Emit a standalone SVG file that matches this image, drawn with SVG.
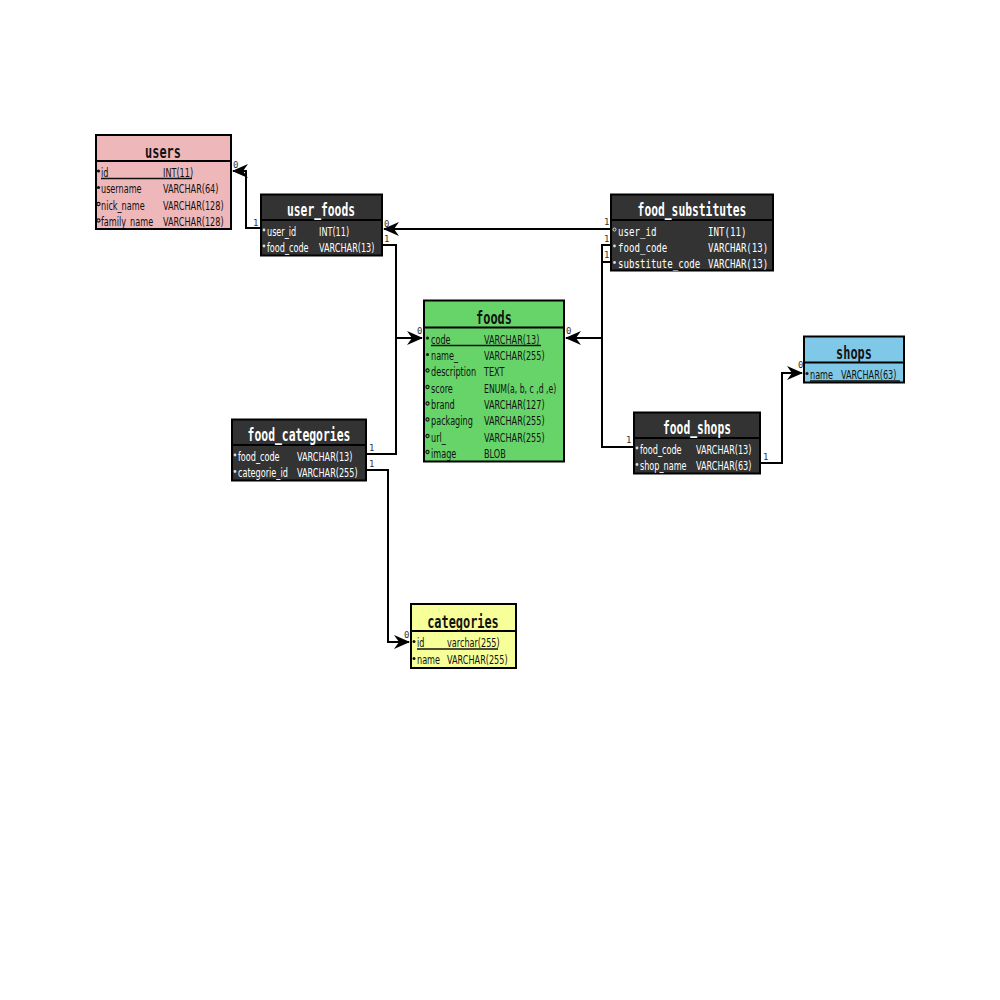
<svg xmlns="http://www.w3.org/2000/svg" width="1000" height="1000" viewBox="0 0 1000 1000">
<defs>
<marker id="arr" markerUnits="userSpaceOnUse" markerWidth="16" markerHeight="14" refX="15" refY="7" orient="auto">
<path d="M0,0 L16,7 L0,14 L5,7 Z" fill="#000"/>
</marker>
</defs>
<style>
.box{stroke:#000;stroke-width:2}
.sep{stroke:#000;stroke-width:2}
.hd{font-family:"DejaVu Sans Mono",monospace;font-weight:bold;font-size:17px;text-anchor:middle}
.tx{font-family:"DejaVu Sans",sans-serif;font-size:12.5px}
.mono{font-family:"DejaVu Sans Mono",monospace;font-size:12px}
.dk{fill:#111}
.lt{fill:#fff}
.ul{stroke-width:1.3}
.conn{fill:none;stroke:#000;stroke-width:2}
.card{font-family:"DejaVu Sans Mono",monospace;font-size:9px;fill:#333}
</style>
<rect width="1000" height="1000" fill="#fff"/>

<g id="users">
<rect class="box" x="96" y="135" width="135" height="94" fill="#EEB7BA"/>
<line class="sep" x1="96" y1="161" x2="231" y2="161"/>
<text class="hd dk" transform="translate(163,157.5) scale(0.7,1)">users</text>
<circle cx="98.5" cy="171" r="1.6" fill="#111"/>
<text class="tx dk" transform="translate(101,176.5) scale(0.65,1)">id</text>
<text class="tx dk" transform="translate(163,176.5) scale(0.65,1)">INT(11)</text>
<line class="ul" x1="101" y1="178.5" x2="192" y2="178.5" stroke="#111"/>
<circle cx="98.5" cy="187.5" r="1.6" fill="#111"/>
<text class="tx dk" transform="translate(101,193) scale(0.65,1)">username</text>
<text class="tx dk" transform="translate(163,193) scale(0.65,1)">VARCHAR(64)</text>
<circle cx="98.5" cy="204" r="1.6" fill="none" stroke="#111" stroke-width="1.1"/>
<text class="tx dk" transform="translate(101,209.5) scale(0.65,1)">nick_name</text>
<text class="tx dk" transform="translate(163,209.5) scale(0.65,1)">VARCHAR(128)</text>
<circle cx="98.5" cy="220.5" r="1.6" fill="none" stroke="#111" stroke-width="1.1"/>
<text class="tx dk" transform="translate(101,226) scale(0.65,1)">family_name</text>
<text class="tx dk" transform="translate(163,226) scale(0.65,1)">VARCHAR(128)</text>
</g>

<g id="user_foods">
<rect class="box" x="261" y="194.5" width="121" height="61" fill="#333"/>
<line class="sep" x1="261" y1="220" x2="382" y2="220"/>
<text class="hd lt" transform="translate(321,215.5) scale(0.665,1)">user_foods</text>
<circle cx="264" cy="230" r="1.4" fill="#ddd"/>
<text class="tx lt" transform="translate(267,235.5) scale(0.65,1)">user_id</text>
<text class="tx lt" transform="translate(319,235.5) scale(0.65,1)">INT(11)</text>
<circle cx="264" cy="246" r="1.4" fill="#ddd"/>
<text class="tx lt" transform="translate(267,251.5) scale(0.65,1)">food_code</text>
<text class="tx lt" transform="translate(319,251.5) scale(0.65,1)">VARCHAR(13)</text>
</g>

<g id="food_substitutes">
<rect class="box" x="611" y="194.5" width="162" height="76" fill="#333"/>
<line class="sep" x1="611" y1="220" x2="773" y2="220"/>
<text class="hd lt" transform="translate(692,215.5) scale(0.665,1)">food_substitutes</text>
<circle cx="614.5" cy="229.5" r="1.5" fill="none" stroke="#ddd" stroke-width="1"/>
<text class="mono lt" transform="translate(618,235.5) scale(0.76,1)">user_id</text>
<text class="mono lt" transform="translate(708,235.5) scale(0.76,1)">INT(11)</text>
<circle cx="614.5" cy="246" r="1.4" fill="#ddd"/>
<text class="mono lt" transform="translate(618,251.5) scale(0.76,1)">food_code</text>
<text class="mono lt" transform="translate(708,251.5) scale(0.76,1)">VARCHAR(13)</text>
<circle cx="614.5" cy="262.5" r="1.4" fill="#ddd"/>
<text class="mono lt" transform="translate(618,268) scale(0.76,1)">substitute_code</text>
<text class="mono lt" transform="translate(708,268) scale(0.76,1)">VARCHAR(13)</text>
</g>

<g id="foods">
<rect class="box" x="424" y="300.5" width="140" height="161" fill="#66D468"/>
<line class="sep" x1="424" y1="327.5" x2="564" y2="327.5"/>
<text class="hd dk" transform="translate(494,323.5) scale(0.7,1)">foods</text>
<circle cx="427.5" cy="338" r="1.5" fill="#111"/>
<text class="tx dk" transform="translate(431,343.5) scale(0.65,1)">code</text>
<text class="tx dk" transform="translate(484,343.5) scale(0.65,1)">VARCHAR(13)</text>
<line class="ul" x1="431" y1="345.5" x2="541" y2="345.5" stroke="#111"/>
<circle cx="427.5" cy="354.5" r="1.5" fill="#111"/>
<text class="tx dk" transform="translate(431,360) scale(0.65,1)">name_</text>
<text class="tx dk" transform="translate(484,360) scale(0.65,1)">VARCHAR(255)</text>
<circle cx="427.5" cy="370.5" r="1.6" fill="none" stroke="#111" stroke-width="1.1"/>
<text class="tx dk" transform="translate(431,376) scale(0.65,1)">description</text>
<text class="tx dk" transform="translate(484,376) scale(0.65,1)">TEXT</text>
<circle cx="427.5" cy="387" r="1.6" fill="none" stroke="#111" stroke-width="1.1"/>
<text class="tx dk" transform="translate(431,392.5) scale(0.65,1)">score</text>
<text class="tx dk" transform="translate(484,392.5) scale(0.62,1)">ENUM(a, b, c ,d ,e)</text>
<circle cx="427.5" cy="403.5" r="1.6" fill="none" stroke="#111" stroke-width="1.1"/>
<text class="tx dk" transform="translate(431,409) scale(0.65,1)">brand</text>
<text class="tx dk" transform="translate(484,409) scale(0.65,1)">VARCHAR(127)</text>
<circle cx="427.5" cy="419.5" r="1.6" fill="none" stroke="#111" stroke-width="1.1"/>
<text class="tx dk" transform="translate(431,425) scale(0.65,1)">packaging</text>
<text class="tx dk" transform="translate(484,425) scale(0.65,1)">VARCHAR(255)</text>
<circle cx="427.5" cy="436" r="1.6" fill="none" stroke="#111" stroke-width="1.1"/>
<text class="tx dk" transform="translate(431,441.5) scale(0.65,1)">url_</text>
<text class="tx dk" transform="translate(484,441.5) scale(0.65,1)">VARCHAR(255)</text>
<circle cx="427.5" cy="452" r="1.6" fill="none" stroke="#111" stroke-width="1.1"/>
<text class="tx dk" transform="translate(431,457.5) scale(0.65,1)">image</text>
<text class="tx dk" transform="translate(484,457.5) scale(0.65,1)">BLOB</text>
</g>

<g id="food_categories">
<rect class="box" x="232" y="419.5" width="134" height="61" fill="#333"/>
<line class="sep" x1="232" y1="445" x2="366" y2="445"/>
<text class="hd lt" transform="translate(299,440.5) scale(0.67,1)">food_categories</text>
<circle cx="235" cy="455" r="1.4" fill="#ddd"/>
<text class="tx lt" transform="translate(238,460.5) scale(0.65,1)">food_code</text>
<text class="tx lt" transform="translate(297,460.5) scale(0.65,1)">VARCHAR(13)</text>
<circle cx="235" cy="471.5" r="1.4" fill="#ddd"/>
<text class="tx lt" transform="translate(238,477) scale(0.65,1)">categorie_id</text>
<text class="tx lt" transform="translate(297,477) scale(0.65,1)">VARCHAR(255)</text>
</g>

<g id="shops">
<rect class="box" x="804" y="336.5" width="100" height="46" fill="#80C8E8"/>
<line class="sep" x1="804" y1="362.5" x2="904" y2="362.5"/>
<text class="hd dk" transform="translate(854,358.5) scale(0.7,1)">shops</text>
<circle cx="807" cy="373.5" r="1.5" fill="#111"/>
<text class="tx dk" transform="translate(810,379) scale(0.65,1)">name</text>
<text class="tx dk" transform="translate(841,379) scale(0.65,1)">VARCHAR(63)</text>
<line class="ul" x1="810" y1="381" x2="900" y2="381" stroke="#111"/>
</g>

<g id="food_shops">
<rect class="box" x="634" y="412.5" width="126" height="61" fill="#333"/>
<line class="sep" x1="634" y1="438" x2="760" y2="438"/>
<text class="hd lt" transform="translate(697,433.5) scale(0.665,1)">food_shops</text>
<circle cx="637" cy="448" r="1.4" fill="#ddd"/>
<text class="tx lt" transform="translate(640,453.5) scale(0.65,1)">food_code</text>
<text class="tx lt" transform="translate(696,453.5) scale(0.65,1)">VARCHAR(13)</text>
<circle cx="637" cy="464.5" r="1.4" fill="#ddd"/>
<text class="tx lt" transform="translate(640,470) scale(0.65,1)">shop_name</text>
<text class="tx lt" transform="translate(696,470) scale(0.65,1)">VARCHAR(63)</text>
</g>

<g id="categories">
<rect class="box" x="411" y="604" width="105" height="64" fill="#F7FF99"/>
<line class="sep" x1="411" y1="631" x2="516" y2="631"/>
<text class="hd dk" transform="translate(463,627.5) scale(0.7,1)">categories</text>
<circle cx="414" cy="641.5" r="1.5" fill="#111"/>
<text class="tx dk" transform="translate(417,647) scale(0.65,1)">id</text>
<text class="tx dk" transform="translate(447,647) scale(0.65,1)">varchar(255)</text>
<line class="ul" x1="417" y1="649" x2="498" y2="649" stroke="#111"/>
<circle cx="414" cy="658.5" r="1.5" fill="#111"/>
<text class="tx dk" transform="translate(417,664) scale(0.65,1)">name</text>
<text class="tx dk" transform="translate(447,664) scale(0.65,1)">VARCHAR(255)</text>
</g>

<g id="connectors">
<path class="conn" d="M261,228 H246 V171 H233" marker-end="url(#arr)"/>
<path class="conn" d="M611,229 H384" marker-end="url(#arr)"/>
<path class="conn" d="M382,245 H396 V338 H422" marker-end="url(#arr)"/>
<path class="conn" d="M366,454 H396 V338"/>
<path class="conn" d="M611,245 H602 V338 H566" marker-end="url(#arr)"/>
<path class="conn" d="M611,262 H602"/>
<path class="conn" d="M634,447 H602 V338"/>
<path class="conn" d="M760,463 H782 V373 H802" marker-end="url(#arr)"/>
<path class="conn" d="M366,470 H388 V642 H409" marker-end="url(#arr)"/>
<text class="card" x="233" y="168">0</text>
<text class="card" x="253" y="226">1</text>
<text class="card" x="384" y="227">0</text>
<text class="card" x="384" y="242">1</text>
<text class="card" x="417" y="334">0</text>
<text class="card" x="604" y="225">1</text>
<text class="card" x="604" y="242">1</text>
<text class="card" x="604" y="258">1</text>
<text class="card" x="566" y="334">0</text>
<text class="card" x="369" y="451">1</text>
<text class="card" x="369" y="467">1</text>
<text class="card" x="626" y="443">1</text>
<text class="card" x="763" y="460">1</text>
<text class="card" x="798" y="368">0</text>
<text class="card" x="404" y="638">0</text>
</g>
</svg>
